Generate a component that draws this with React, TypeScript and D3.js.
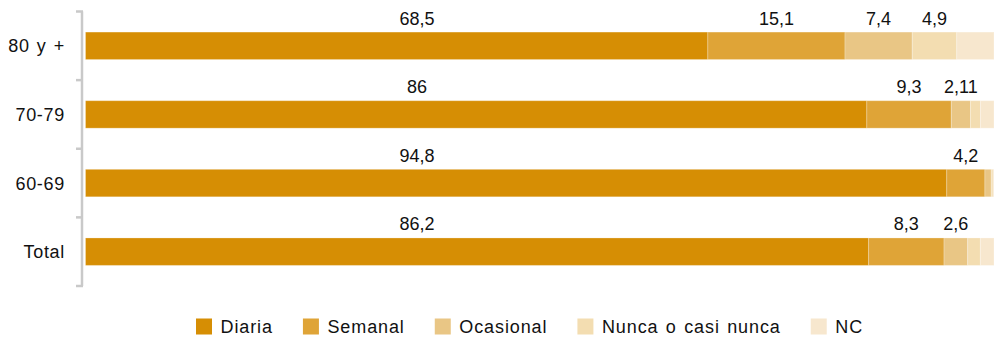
import { useEffect, useRef } from "react";
import * as d3 from "d3";

const categories = ["80 y +", "70-79", "60-69", "Total"];
const seriesNames = ["Diaria", "Semanal", "Ocasional", "Nunca o casi nunca", "NC"];
const diaria = [68.5, 86, 94.8, 86.2];
const semanal = [15.1, 9.3, 4.2, 8.3];
const ocasional = [7.4, 2.11, 0.7, 2.6];
const nunca = [4.9, 1.1, 0.2, 1.4];
const nc = [4.1, 1.49, 0.1, 1.5];
const colors = ["#d68e04", "#dfa437", "#e9c685", "#f3ddb1", "#f7e7ce"];

const W = 994;
const H = 338;
const FONT = "'Liberation Sans', Arial, Helvetica, sans-serif";

export default function App() {
  const svgRef = useRef<SVGSVGElement>(null);

  useEffect(() => {
    document.body.style.margin = "0";
    const svg = d3.select(svgRef.current!);
    svg.selectAll("*").remove();

    const series = [diaria, semanal, ocasional, nunca, nc];
    const rows = categories.map((c, i) => {
      const r: any = { cat: c };
      seriesNames.forEach((s, k) => (r[s] = series[k][i]));
      return r;
    });
    const stacked = d3.stack<any>().keys(seriesNames)(rows);

    const x = d3.scaleLinear().domain([0, 100]).range([85.5, 994]);
    const y = d3.scaleBand<string>().domain(categories)
      .range([11.5, 286]).paddingInner(0.6).paddingOuter(0.3);
    const step = y.step();

    // eje vertical con marcas entre categorías
    const axis = svg.append("g");
    axis.append("line")
      .attr("x1", 82).attr("x2", 82)
      .attr("y1", y.range()[0]).attr("y2", y.range()[1])
      .attr("stroke", "#c9c9c9").attr("stroke-width", 2.5);
    const ticks = categories.map((c) => y(c)! - step * 0.3).concat([y.range()[1]]);
    axis.selectAll("line.tick").data(ticks).join("line")
      .attr("class", "tick")
      .attr("x1", 76).attr("x2", 83)
      .attr("y1", (d) => d).attr("y2", (d) => d)
      .attr("stroke", "#c9c9c9").attr("stroke-width", 2.5);

    axis.selectAll("text.cat").data(categories).join("text")
      .attr("class", "cat")
      .attr("x", 65).attr("y", (d) => y(d)! + y.bandwidth() / 2)
      .attr("dy", "0.36em")
      .attr("text-anchor", "end")
      .attr("font-family", FONT).attr("font-size", 18).attr("fill", "#111")
      .attr("letter-spacing", 0.7).attr("word-spacing", 1.5)
      .text((d) => d);

    // barras apiladas
    const g = svg.append("g");
    stacked.forEach((layer, k) => {
      g.append("g").selectAll("rect").data(layer).join("rect")
        .attr("x", (d) => x(d[0]))
        .attr("y", (d) => y(d.data.cat)!)
        .attr("width", (d) => Math.max(0, x(d[1]) - x(d[0])))
        .attr("height", y.bandwidth())
        .attr("fill", colors[k])
        .attr("stroke", "#fff").attr("stroke-opacity", 0.25).attr("stroke-width", 1);
    });

    // etiquetas de valores (NC y valores pequeños sin etiqueta)
    const fmt = (v: number) => String(v).replace(".", ",");
    stacked.forEach((layer, k) => {
      if (k === 4) return;
      const shown = layer.filter((d) => d[1] - d[0] >= 2);
      g.append("g").selectAll("text").data(shown).join("text")
        .attr("x", (d) => (k === 0 ? x(36.5) : x((d[0] + d[1]) / 2)))
        .attr("y", (d) => y(d.data.cat)! - 7.5)
        .attr("text-anchor", "middle")
        .attr("font-family", FONT).attr("font-size", 18).attr("fill", "#111")
        .text((d) => fmt(d.data[seriesNames[k]]));
    });

    // leyenda
    const leg = svg.append("g").attr("transform", "translate(196,318.5)");
    let cx = 0;
    seriesNames.forEach((s, k) => {
      const item = leg.append("g").attr("transform", `translate(${cx},0)`);
      item.append("rect").attr("width", 16).attr("height", 16).attr("fill", colors[k]);
      const t = item.append("text")
        .attr("x", 24.5).attr("y", 8).attr("dy", "0.36em")
        .attr("font-family", FONT).attr("font-size", 18).attr("fill", "#111")
        .attr("letter-spacing", 0.9).attr("word-spacing", 1.5)
        .text(s);
      const tw = (t.node() as SVGTextElement).getComputedTextLength();
      cx += 24.5 + tw + 30;
    });
  }, []);

  return <svg ref={svgRef} width={W} height={H} style={{ display: "block", background: "#fff" }} />;
}
